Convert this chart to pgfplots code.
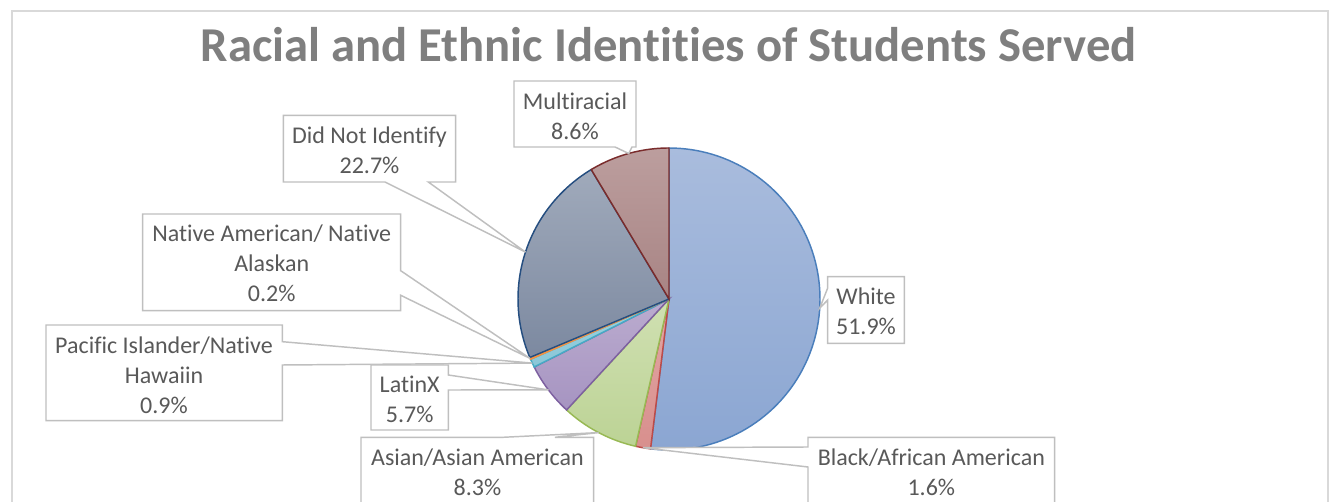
\documentclass[border=0pt]{standalone}
\usepackage{pgfplots}
\usepackage{pgfplotstable}
\pgfplotsset{compat=1.18}
\usepackage{fontspec}
\setmainfont{Carlito}[Ligatures={NoCommon}]

\definecolor{txt}{HTML}{595959}
\definecolor{ttl}{HTML}{7F7F7F}
\definecolor{boxc}{HTML}{BFBFBF}
\definecolor{framec}{HTML}{D9D9D9}

\definecolor{c0t}{HTML}{A9BCDD}\definecolor{c0b}{HTML}{8BA6D2}\definecolor{c0d}{HTML}{4A7EBB}
\definecolor{c1t}{HTML}{E2A7A5}\definecolor{c1b}{HTML}{D88F8D}\definecolor{c1d}{HTML}{BE4B48}
\definecolor{c2t}{HTML}{D0E0B2}\definecolor{c2b}{HTML}{BCD395}\definecolor{c2d}{HTML}{98B954}
\definecolor{c3t}{HTML}{BBACCF}\definecolor{c3b}{HTML}{A694C1}\definecolor{c3d}{HTML}{7D60A0}
\definecolor{c4t}{HTML}{9DD3E1}\definecolor{c4b}{HTML}{8AC6D7}\definecolor{c4d}{HTML}{46AAC5}
\definecolor{c5t}{HTML}{F9A868}\definecolor{c5b}{HTML}{F79646}\definecolor{c5d}{HTML}{F69240}
\definecolor{c6t}{HTML}{A0AABB}\definecolor{c6b}{HTML}{7C89A0}\definecolor{c6d}{HTML}{254E80}
\definecolor{c7t}{HTML}{BC9E9E}\definecolor{c7b}{HTML}{A88484}\definecolor{c7d}{HTML}{7A2C2C}

\pgfplotsset{
  slice0/.style={draw=c0d, top color=c0t, bottom color=c0b, line width=1.1pt},
  slice1/.style={draw=c1d, top color=c1t, bottom color=c1b, line width=1.1pt},
  slice2/.style={draw=c2d, top color=c2t, bottom color=c2b, line width=1.1pt},
  slice3/.style={draw=c3d, top color=c3t, bottom color=c3b, line width=1.1pt},
  slice4/.style={draw=c4d, top color=c4t, bottom color=c4b, line width=1.1pt},
  slice5/.style={draw=c5d, top color=c5t, bottom color=c5b, line width=1.1pt},
  slice6/.style={draw=c6d, top color=c6t, bottom color=c6b, line width=1.1pt},
  slice7/.style={draw=c7d, top color=c7t, bottom color=c7b, line width=1.1pt},
}

\pgfplotstableread[col sep=comma]{
name,value
White,51.9
Black/African American,1.6
Asian/Asian American,8.3
LatinX,5.7
Pacific Islander/Native Hawaiin,0.9
Native American/ Native Alaskan,0.2
Did Not Identify,22.7
Multiracial,8.6
}\piedata

\begin{document}
\begin{tikzpicture}
\begin{axis}[
  hide axis, scale only axis, clip=false,
  width=999.75pt, height=376.5pt,
  xmin=0, xmax=1333, ymin=-502, ymax=0,
]
% outer frame
\draw[framec, line width=1.4pt] (axis cs:12,-11) rectangle (axis cs:1328,-530);
% title
\node[anchor=base, text=ttl, font=\fontsize{36.5}{40}\selectfont\bfseries] at (axis cs:668.5,-62) {Racial and Ethnic Identities of Students Served};

% pie slices from the data
\def\cum{0}
\pgfplotsforeachungrouped \i in {0,...,7}{%
  \pgfplotstablegetelem{\i}{value}\of\piedata
  \pgfmathsetmacro\angA{90-(\cum/99.9)*360}%
  \pgfmathsetmacro\cum{\cum+\pgfplotsretval}%
  \pgfmathsetmacro\angB{90-(\cum/99.9)*360}%
  \edef\doslice{\noexpand\addplot[slice\i, domain=\angB:\angA, samples=90] ({669+151*cos(x)},{-299+151*sin(x)}) -- (axis cs:669,-299) -- cycle;}%
  \doslice
}

% callouts
\tikzset{callout/.style={draw=boxc, fill=white, line width=1.1pt, line join=miter}}
\draw[callout] (axis cs:514,-81) -- (axis cs:636,-81) -- (axis cs:636,-147) -- (axis cs:632,-147) -- (axis cs:628.7,-153.5) -- (axis cs:615,-147) -- (axis cs:514,-147) -- cycle;
\draw[callout] (axis cs:283.3,-115.3) -- (axis cs:455.7,-115.3) -- (axis cs:455.7,-182) -- (axis cs:428.3,-182) -- (axis cs:525.5,-252.1) -- (axis cs:385,-182) -- (axis cs:283.3,-182) -- cycle;
\draw[callout] (axis cs:142.7,-214) -- (axis cs:400.7,-214) -- (axis cs:400.7,-270.7) -- (axis cs:530,-358.4) -- (axis cs:400.7,-295.3) -- (axis cs:400.7,-310.7) -- (axis cs:142.7,-310.7) -- cycle;
\draw[callout] (axis cs:46,-325) -- (axis cs:282.3,-325) -- (axis cs:282.3,-341.7) -- (axis cs:532.3,-363.1) -- (axis cs:282.3,-365) -- (axis cs:282.3,-420.7) -- (axis cs:46,-420.7) -- cycle;
\draw[callout] (axis cs:371,-365) -- (axis cs:448.3,-365) -- (axis cs:448.3,-375) -- (axis cs:548.5,-389.9) -- (axis cs:448.3,-390) -- (axis cs:448.3,-430) -- (axis cs:371,-430) -- cycle;
\draw[callout] (axis cs:361,-437.3) -- (axis cs:503,-437.3) -- (axis cs:598.7,-432.6) -- (axis cs:555,-437.3) -- (axis cs:593.7,-437.3) -- (axis cs:593.7,-515) -- (axis cs:361,-515) -- cycle;
\draw[callout] (axis cs:808,-437.3) -- (axis cs:1054.6,-437.3) -- (axis cs:1054.6,-515) -- (axis cs:808,-515) -- (axis cs:808,-467) -- (axis cs:643,-447.7) -- (axis cs:808,-447) -- cycle;
\draw[callout] (axis cs:827.7,-276.7) -- (axis cs:904.3,-276.7) -- (axis cs:904.3,-343.3) -- (axis cs:827.7,-343.3) -- (axis cs:827.7,-300) -- (axis cs:819.7,-308.2) -- (axis cs:827.7,-288) -- cycle;

\tikzset{lbl/.style={text=txt, align=center, font=\fontsize{18}{22.5}\selectfont, inner sep=0pt}}
\node[lbl] at (axis cs:575,-116) {Multiracial\\8.6\%};
\node[lbl] at (axis cs:369.5,-150.5) {Did Not Identify\\22.7\%};
\node[lbl] at (axis cs:271.7,-263.5) {Native American/ Native\\Alaskan\\0.2\%};
\node[lbl] at (axis cs:164,-375) {Pacific Islander/Native\\Hawaiin\\0.9\%};
\node[lbl] at (axis cs:409.7,-399) {LatinX\\5.7\%};
\node[lbl] at (axis cs:477.4,-472.5) {Asian/Asian American\\8.3\%};
\node[lbl] at (axis cs:931.3,-472.5) {Black/African American\\1.6\%};
\node[lbl] at (axis cs:866,-311.7) {White\\51.9\%};

\coordinate (BL) at (axis cs:0,-502);
\coordinate (TR) at (axis cs:1333,0);
\end{axis}
\pgfresetboundingbox
\path[use as bounding box] (BL) rectangle (TR);
\end{tikzpicture}
\end{document}
